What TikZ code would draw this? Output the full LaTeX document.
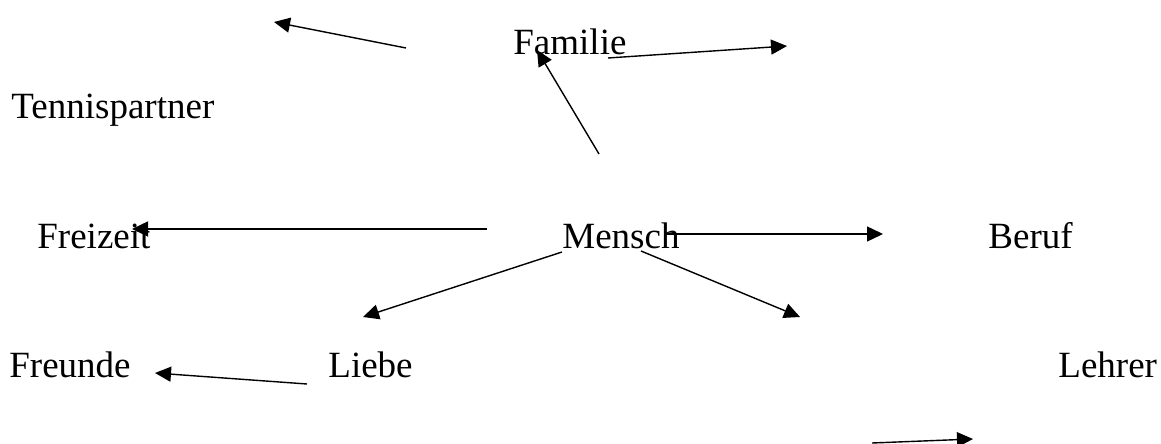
\documentclass[tikz,border=0pt]{standalone}
\usepackage{fontspec}
\setmainfont{Liberation Serif}
\usepackage{tikz}
\usetikzlibrary{arrows.meta,positioning}
\newcommand\WordFont{\fontsize{18.5}{22}\selectfont}
\tikzstyle{word}=[anchor=base west,inner sep=0pt,font=\WordFont]
\tikzstyle{link}=[line width=0.7pt,-{Triangle[length=8pt,width=7.5pt]}]
\begin{document}
\begin{tikzpicture}[x=0.5pt,y=-0.5pt]
      \useasboundingbox (0,0) rectangle (1161,444);
      \node[word] (familie) at (513,55) {Familie};
      \node[word] (tennis) at (11,119) {Tennispartner};
      \node[word] (freizeit) at (37,248) {Freizeit};
      \node[word] (mensch) at (562,248) {Mensch};
      \node[word] (beruf) at (988,248) {Beruf};
      \node[word] (freunde) at (9,377) {Freunde};
      \node[word] (liebe) at (328,377) {Liebe};
      \node[word] (lehrer) at (1058,377) {Lehrer};
      % loose arrow ends
      \coordinate (upleftTail) at (406,48);
      \coordinate (upleftHead) at (274,22);
      \coordinate (uprightTail) at (608,58);
      \coordinate (uprightHead) at (787,46);
      \coordinate (upTail) at (599,154);
      \coordinate (upHead) at (537,50);
      \coordinate (leftTail) at (487,229);
      \coordinate (leftHead) at (132,229);
      \coordinate (rightTail) at (664,234);
      \coordinate (rightHead) at (883,234);
      \coordinate (downleftTail) at (562,252);
      \coordinate (downleftHead) at (363,317);
      \coordinate (downrightTail) at (641,251);
      \coordinate (downrightHead) at (800,317);
      \coordinate (friendTail) at (307,384);
      \coordinate (friendHead) at (155,373);
      \coordinate (bottomTail) at (872,443);
      \coordinate (bottomHead) at (973,439);
      \draw[link] (upleftTail) -- (upleftHead);
      \draw[link] (uprightTail) -- (uprightHead);
      \draw[link] (upTail) -- (upHead);
      \draw[link] (leftTail) -- (leftHead);
      \draw[link] (rightTail) -- (rightHead);
      \draw[link] (downleftTail) -- (downleftHead);
      \draw[link] (downrightTail) -- (downrightHead);
      \draw[link] (friendTail) -- (friendHead);
      \draw[link] (bottomTail) -- (bottomHead);
   \end{tikzpicture}
\end{document}
